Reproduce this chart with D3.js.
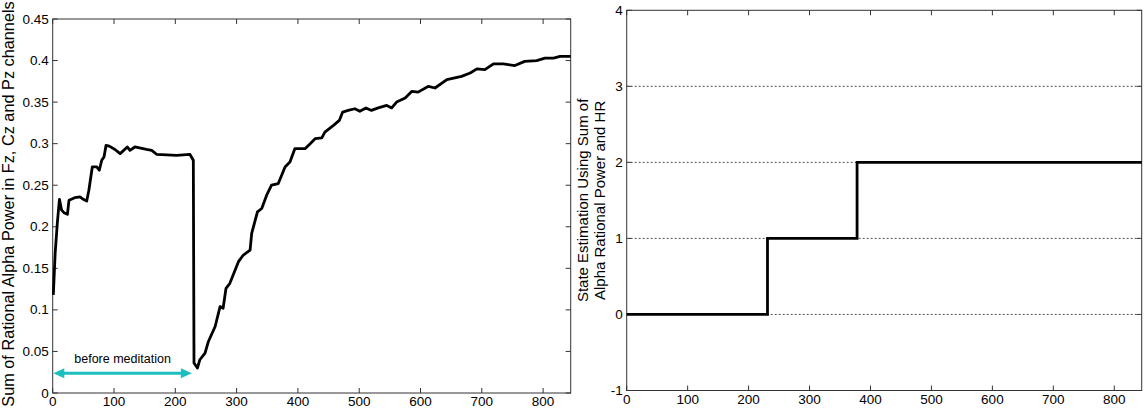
<!DOCTYPE html>
<html>
<head>
<meta charset="utf-8">
<script src="https://cdn.jsdelivr.net/npm/d3@7"></script>
<style>
  body { margin: 0; background: #fff; }
  text { font-family: "Liberation Sans", Arial, sans-serif; fill: #000; }
</style>
</head>
<body>
<svg id="chart" width="1145" height="408"></svg>
<script>
// left panel: sum of rational alpha power
const alphaX = [1, 4, 7.5, 11, 14.6, 18.4, 24, 26.6, 36, 44.5, 50, 55.5, 59, 64.6, 71.8, 76, 80, 83.7, 87, 92.3,
  101.6, 110, 121.7, 126, 134, 153, 161.5, 170, 202, 224, 229.4, 230.5, 236, 240, 248.5, 254, 265, 273, 278, 282.7,
  289, 303, 311, 322, 324.6, 334, 341, 349, 357, 368, 379, 387, 395, 411.6, 420, 428, 439, 444, 458, 467.6,
  473, 482, 493, 501, 511, 520, 531, 545, 553, 561, 575, 586, 596, 613, 623.6, 643, 667, 681, 692, 705,
  719, 735, 754, 770, 789.5, 803, 817, 827.6, 845];
const alphaY = [0.118, 0.168, 0.204, 0.233, 0.220, 0.217, 0.215, 0.232, 0.235, 0.236, 0.233, 0.231, 0.244, 0.272, 0.272, 0.268, 0.280, 0.284, 0.298, 0.297,
  0.293, 0.288, 0.296, 0.292, 0.296, 0.293, 0.292, 0.287, 0.286, 0.287, 0.280, 0.036, 0.030, 0.040, 0.048, 0.062, 0.080, 0.104, 0.102, 0.126,
  0.132, 0.158, 0.166, 0.172, 0.192, 0.218, 0.222, 0.238, 0.250, 0.252, 0.272, 0.278, 0.294, 0.294, 0.300, 0.306, 0.307, 0.314, 0.322, 0.328,
  0.338, 0.340, 0.342, 0.339, 0.343, 0.340, 0.343, 0.346, 0.343, 0.350, 0.355, 0.363, 0.362, 0.369, 0.367, 0.377, 0.381, 0.385, 0.390, 0.389,
  0.396, 0.396, 0.394, 0.399, 0.400, 0.403, 0.403, 0.405, 0.405];
const alphaTicks = [0, 0.05, 0.1, 0.15, 0.2, 0.25, 0.3, 0.35, 0.4, 0.45];

// right panel: estimated state (step)
const stateX = [0, 231, 378, 845];
const stateY = [0, 1, 2, 2];
const stateTicks = [-1, 0, 1, 2, 3, 4];
const stateGrid = [0, 1, 2, 3];

const timeTicks = [0, 100, 200, 300, 400, 500, 600, 700, 800];
const arrowRange = [1, 227];
const arrowLevel = 0.0237;

const svg = d3.select("#chart");
const axisColor = "#333";
const tickLen = 5;

function panel(box, xDomain, yDomain, yTicks, yFormat) {
  const x = d3.scaleLinear().domain(xDomain).range([box.left, box.right]);
  const y = d3.scaleLinear().domain(yDomain).range([box.bottom, box.top]);
  const g = svg.append("g");

  g.append("rect")
    .attr("x", box.left).attr("y", box.top)
    .attr("width", box.right - box.left).attr("height", box.bottom - box.top)
    .attr("fill", "none").attr("stroke", axisColor).attr("stroke-width", 1);

  // ticks pointing inward on all four sides
  g.selectAll(".xt").data(timeTicks).join("path")
    .attr("d", (d) => `M${x(d)},${box.bottom}v${-tickLen}M${x(d)},${box.top}v${tickLen}`)
    .attr("stroke", axisColor);
  g.selectAll(".yt").data(yTicks).join("path")
    .attr("d", (d) => `M${box.left},${y(d)}h${tickLen}M${box.right},${y(d)}h${-tickLen}`)
    .attr("stroke", axisColor);

  g.selectAll(".xl").data(timeTicks).join("text")
    .attr("x", (d) => x(d)).attr("y", box.bottom + 13)
    .attr("text-anchor", "middle").style("font-size", "13.5px")
    .text((d) => d);
  g.selectAll(".yl").data(yTicks).join("text")
    .attr("x", box.left - 4).attr("y", (d) => y(d) + 4.5)
    .attr("text-anchor", "end").style("font-size", "13.5px")
    .text(yFormat);

  return { x, y, g };
}

// left chart
const left = panel({ left: 52.7, right: 570.7, top: 19, bottom: 393 }, [0, 845], [0, 0.45], alphaTicks, (d) => d3.format("")(d));
const alphaData = alphaX.map((d, i) => [d, alphaY[i]]);
left.g.append("path")
  .datum(alphaData)
  .attr("fill", "none").attr("stroke", "#000").attr("stroke-width", 2.8)
  .attr("stroke-linejoin", "round")
  .attr("d", d3.line().x((d) => left.x(d[0])).y((d) => left.y(d[1])));

// "before meditation" double arrow
const ac = "#1cbfbf";
const ax0 = left.x(arrowRange[0]), ax1 = left.x(arrowRange[1]), ay = left.y(arrowLevel);
left.g.append("line")
  .attr("x1", ax0 + 6).attr("x2", ax1 - 6).attr("y1", ay).attr("y2", ay)
  .attr("stroke", ac).attr("stroke-width", 3);
left.g.append("path")
  .attr("d", `M${ax0},${ay}l11,-5v10zM${ax1},${ay}l-11,-5v10z`)
  .attr("fill", ac);
left.g.append("text")
  .attr("x", (ax0 + ax1) / 2).attr("y", ay - 10)
  .attr("text-anchor", "middle").style("font-size", "12.5px")
  .text("before meditation");

svg.append("text")
  .attr("transform", `translate(14,${(19 + 393) / 2 - 2}) rotate(-90)`)
  .attr("text-anchor", "middle").style("font-size", "16.3px")
  .text("Sum of Rational Alpha Power in Fz, Cz and Pz channels");

// right chart
const right = panel({ left: 626.7, right: 1141.7, top: 10.3, bottom: 390.5 }, [0, 845], [-1, 4], stateTicks, (d) => d);
right.g.selectAll(".grid").data(stateGrid).join("line")
  .attr("x1", 626.7).attr("x2", 1141.7)
  .attr("y1", (d) => right.y(d)).attr("y2", (d) => right.y(d))
  .attr("stroke", "#555").attr("stroke-width", 1).attr("stroke-dasharray", "2,2");
right.g.append("path")
  .datum(stateX.map((d, i) => [d, stateY[i]]))
  .attr("fill", "none").attr("stroke", "#000").attr("stroke-width", 2.8)
  .attr("d", d3.line().curve(d3.curveStepAfter).x((d) => right.x(d[0])).y((d) => right.y(d[1])));

const rl = svg.append("text")
  .attr("transform", `translate(590,${(10.3 + 390.5) / 2}) rotate(-90)`)
  .attr("text-anchor", "middle").style("font-size", "15px");
rl.append("tspan").attr("x", 0).attr("dy", "-0.15em").text("State Estimation Using Sum of");
rl.append("tspan").attr("x", 0).attr("dy", "1.15em").text("Alpha Rational Power and HR");
</script>
</body>
</html>
